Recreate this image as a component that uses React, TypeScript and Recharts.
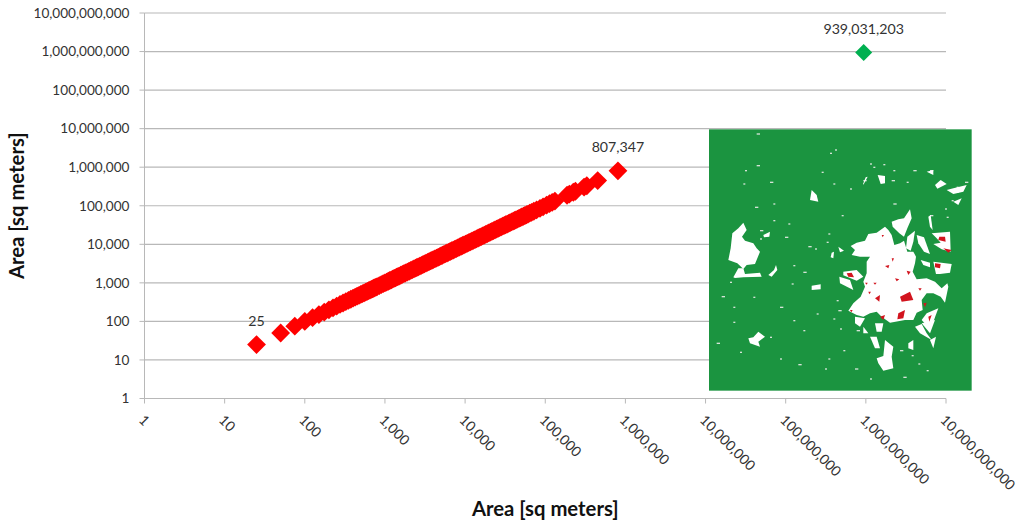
import React from 'react';
import { ScatterChart, Scatter, XAxis, YAxis, CartesianGrid, LabelList, Label } from 'recharts';

const logTicks = [1, 10, 100, 1000, 10000, 100000, 1000000, 10000000, 100000000, 1000000000, 10000000000];

// patch areas (both axes show the same area)
const redAreas = [
  25, 50, 75, 100, 125, 150, 175, 200, 225, 250, 275, 300, 325, 350, 375, 400, 425, 450, 475, 500, 525, 550, 575, 600,
  625, 650, 675, 700, 725, 750, 775, 800, 850, 900, 950, 1000, 1050, 1100, 1150, 1200, 1250, 1300, 1350, 1400, 1450,
  1500, 1575, 1650, 1725, 1800, 1900, 2000, 2100, 2200, 2300, 2400, 2500, 2600, 2725, 2850, 2975, 3100, 3250, 3400,
  3550, 3700, 3850, 4000, 4200, 4400, 4600, 4800, 5000, 5200, 5450, 5700, 5950, 6200, 6500, 6800, 7100, 7400, 7750,
  8100, 8500, 8900, 9300, 9700, 10150, 10600, 11100, 11600, 12150, 12700, 13300, 13900, 14550, 15200, 15900, 16600,
  17350, 18100, 18950, 19800, 20700, 21600, 22600, 23600, 24700, 25800, 27000, 28200, 29500, 30800, 32100, 33500,
  35000, 36400, 38100, 39800, 41400, 43100, 45000, 47000, 49000, 51000, 53400, 55800, 58400, 61000, 64000, 67500,
  72000, 78000, 86000, 94000, 104000, 113000, 122000, 132000, 187000, 200000, 224000, 238000, 305000, 330000, 451000,
  807347,
];
const greenAreas = [939031203];
const labelledAreas = [25, 807347, 939031203];

const redData = redAreas.map(a => ({ x: a, y: a, label: labelledAreas.includes(a) ? a.toLocaleString('en-US') : '' }));
const greenData = greenAreas.map(a => ({ x: a, y: a, label: a.toLocaleString('en-US') }));

// inset map outlines, traced in a 840x840 box
const whiteBlobs = [
  'M85 420L92 385L97 340L115 325L130 308L140 330L126 350L135 362L160 370L170 385L180 395L172 415L165 432L140 435L130 447L112 430Z',
  'M452 378L470 368L495 362L505 342L530 338L555 320L565 330L575 345L583 375L600 370L612 362L622 395L640 395L648 410L645 430L638 455L650 478L680 475L705 485L725 505L742 490L745 500L735 548L722 530L700 520L680 520L665 540L668 570L650 578L640 600L615 600L570 608L545 590L530 575L510 580L490 590L470 585L445 572L460 550L482 530L495 500L490 485L500 460L500 425L510 410L480 410L455 405L465 390Z',
  'M575 305L595 298L612 295L630 268L635 295L622 325L612 350L598 340L578 320Z',
  'M650 345L672 352L690 402L672 395L655 370Z',
  'M622 350L645 332L640 365L632 392L618 385Z',
  'M695 340L750 335L752 395L725 388L700 372L722 368L710 355Z',
  'M700 425L755 432L750 458L720 462L708 462Z',
  'M662 420L690 428L690 442L670 435Z',
  'M430 455L470 450L490 470L470 482L430 466Z',
  'M418 470L450 480L460 510L420 490Z',
  'M335 210L350 225L355 245L330 240Z',
  'M335 497L362 493L362 508L335 510Z',
  'M145 655L160 652L175 635L195 650L175 665L180 680L150 670Z',
  'M533 165L555 168L555 190L542 192Z',
  'M530 715L550 708L555 660L580 680L575 710L580 745L550 752L535 730Z',
  'M510 650L530 650L540 685L525 685Z',
  'M525 610L550 610L545 635L530 635Z',
  'M465 590L495 595L480 620L465 610Z',
  'M490 620L505 640L490 640Z',
  'M645 620L665 612L680 640L695 660L660 640Z',
  'M680 580L715 565L700 605L688 625L665 600Z',
  'M705 195L722 180L740 192L712 206Z',
  'M100 472L115 445L130 445L135 462L180 458L185 470L130 472L105 474Z',
  'M205 465L222 450L228 435L232 450L215 470Z',
  'M190 345L210 335L208 350L192 352Z',
  'M395 398L402 395L400 415L392 412Z',
  'M415 380L432 392L420 397Z',
  'M740 210L760 205L800 195L790 215L760 222Z',
  'M760 245L785 235L775 255Z',
  'M680 155L700 150L700 165Z',
  'M625 670L640 660L640 690L625 685Z',
  'M690 660L708 650L700 685Z',
  'M490 190L497 172L503 170L490 195Z',
  'M685 290L692 285L698 330L690 320Z',
  'M665 610L705 600L690 640Z',
];
const redBlobs = [
  'M600 530L630 515L640 540L605 545Z',
  'M718 350L735 350L737 365L715 360Z',
  'M705 430L722 432L720 445L705 442Z',
  'M440 460L455 458L462 472L445 470Z',
  'M525 535L540 525L538 545Z',
  'M595 580L615 570L610 595L592 598Z',
  'M555 438L568 435L565 445Z',
  'M585 475L598 478L590 484Z',
  'M730 385L755 390L745 398Z',
  'M685 590L695 585L688 605Z',
  'M670 550L680 548L675 562Z',
  'M540 590L555 585L550 600Z',
  'M495 488L503 488L500 494Z',
  'M520 488L530 488L525 494Z',
  'M545 345L552 345L548 352Z',
  'M620 452L632 455L625 465Z',
  'M505 515L513 515L508 523Z',
  'M655 505L665 505L660 512Z',
  'M575 415L582 415L578 425Z',
  'M450 570L458 570L454 577Z',
];
const specks = [
  [170, 40], [390, 98], [405, 88], [170, 135], [135, 150], [130, 190], [210, 185], [365, 155], [400, 190], [490, 180], [510, 130],
  [550, 132], [575, 180], [520, 140], [620, 185], [690, 285], [735, 265], [770, 215], [580, 250], [425, 285], [220, 250],
  [165, 260], [220, 300], [265, 310], [255, 350], [385, 340], [380, 365], [325, 378], [345, 385], [280, 435], [310, 455],
  [275, 490], [90, 485], [65, 528], [160, 530], [100, 560], [240, 560], [350, 580], [410, 540], [415, 570], [400, 595],
  [420, 625], [470, 630], [280, 600], [310, 630], [50, 668], [120, 695], [240, 715], [295, 732], [385, 715], [430, 690],
  [465, 745], [375, 745], [510, 775], [610, 770], [680, 750], [655, 730], [600, 690], [635, 705], [740, 290], [690, 150],
  [210, 650], [100, 605], [180, 330], [180, 355], [770, 200], [795, 185], [755, 240], [580, 150], [640, 150], [450, 205],
];

const DiamondMark = (color: string, r: number) => (props: any) => {
  const { cx, cy } = props;
  return <path d={`M${cx} ${cy - r}L${cx + r} ${cy}L${cx} ${cy + r}L${cx - r} ${cy}Z`} fill={color} />;
};

const XTick = ({ x, y, payload }: any) => (
  <text
    x={x - 3}
    y={y + 17}
    transform={`rotate(45 ${x - 3} ${y + 12})`}
    fontSize={14}
    fontFamily="Lato"
    fill="#333"
    textAnchor="start"
  >
    {payload.value.toLocaleString('en-US')}
  </text>
);

const PointLabel = ({ x, y, width, value }: any) => {
  if (!value) return null;
  return (
    <text x={x + width / 2} y={y + width / 2 - 19} fontSize={14.2} fontFamily="Lato" fill="#333" textAnchor="middle">
      {value}
    </text>
  );
};

const fmt = (v: number) => v.toLocaleString('en-US');

export default function App() {
  return (
    <div style={{ position: 'absolute', left: 0, top: 0, width: 1024, height: 527, background: '#fff' }}>
      <ScatterChart width={1024} height={527} margin={{ top: 13, right: 78, bottom: 0, left: 0 }}>
        <CartesianGrid vertical={false} stroke="#b8b8b8" strokeWidth={1.2} />
        <XAxis
          dataKey="x"
          type="number"
          scale="log"
          domain={[1, 10000000000]}
          ticks={logTicks}
          interval={0}
          height={128.5}
          tick={<XTick />}
          stroke="#b8b8b8"
          tickSize={5}
          allowDataOverflow
        >
          <Label
            value="Area [sq meters]"
            position="insideBottom"
            offset={11}
            style={{ fontFamily: 'Lato', fontWeight: 700, fontSize: 20.3, fill: '#111' }}
          />
        </XAxis>
        <YAxis
          dataKey="y"
          type="number"
          scale="log"
          domain={[1, 10000000000]}
          ticks={logTicks}
          interval={0}
          width={144.5}
          tickFormatter={fmt}
          tick={{ fontFamily: 'Lato', fontSize: 13.6, fill: '#333' }}
          stroke="#b8b8b8"
          tickSize={5}
          tickMargin={10}
          allowDataOverflow
        >
          <Label
            value="Area [sq meters]"
            angle={-90}
            position="insideLeft"
            offset={17}
            style={{ textAnchor: 'middle', fontFamily: 'Lato', fontWeight: 700, fontSize: 20.3, fill: '#111' }}
          />
        </YAxis>
        <Scatter data={redData} shape={DiamondMark('#ff0000', 9.4)} isAnimationActive={false}>
          <LabelList dataKey="label" content={<PointLabel />} />
        </Scatter>
        <Scatter data={greenData} shape={DiamondMark('#00b050', 8.5)} isAnimationActive={false}>
          <LabelList dataKey="label" content={<PointLabel />} />
        </Scatter>
      </ScatterChart>
      <svg
        width={280}
        height={280}
        viewBox="0 0 840 840"
        style={{ position: 'absolute', left: 700, top: 120 }}
      >
        <rect x={27} y={28} width={788} height={784} fill="#1b9440" />
        {specks.map(([sx, sy], i) => (
          <rect key={i} x={sx} y={sy} width={i % 3 === 0 ? 10 : 6} height={4} fill="#d5e3d7" />
        ))}
        {whiteBlobs.map((d, i) => (
          <path key={i} d={d} fill="#fff" />
        ))}
        {redBlobs.map((d, i) => (
          <path key={i} d={d} fill="#d2141e" />
        ))}
      </svg>
    </div>
  );
}
